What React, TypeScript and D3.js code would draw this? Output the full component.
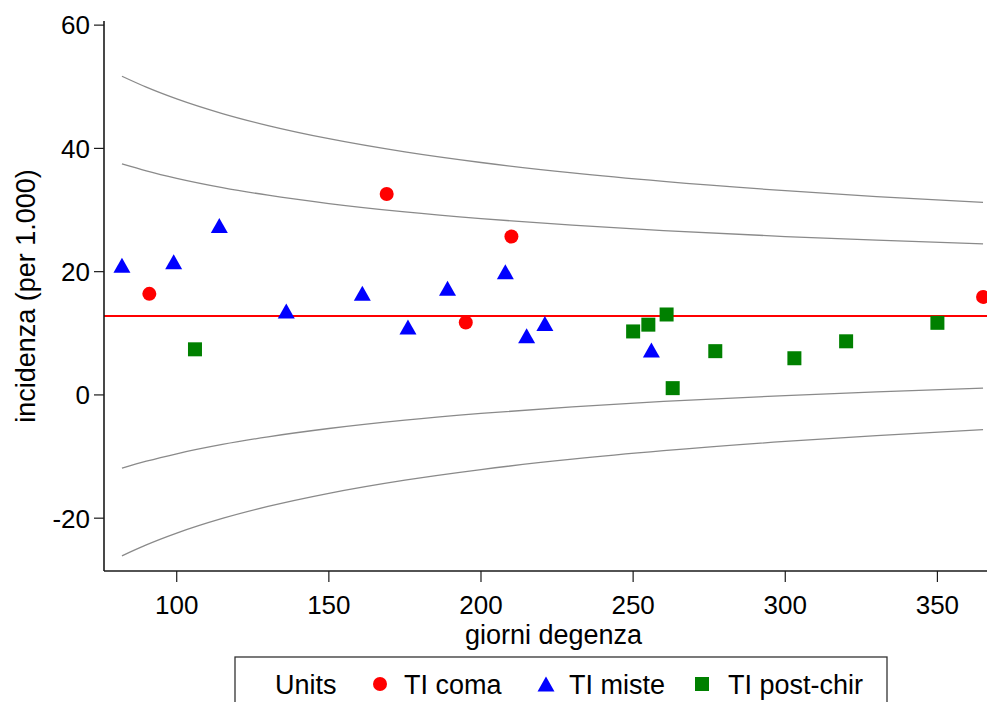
import React from "react";
import * as d3 from "d3";

// Units: days of stay (giorni degenza) and incidence per 1,000 days
const comaDays = [91, 169, 210, 195, 365];
const comaRate = [16.4, 32.6, 25.7, 11.75, 15.9];

const misteDays = [82, 99, 114, 136, 161, 176, 189, 208, 215, 221, 256];
const misteRate = [21.05, 21.6, 27.5, 13.6, 16.5, 11.0, 17.3, 20.0, 9.6, 11.6, 7.3];

const postDays = [106, 250, 255, 261, 263, 277, 303, 320, 350];
const postRate = [7.4, 10.3, 11.4, 13.05, 1.1, 7.1, 5.95, 8.7, 11.7];

// Overall incidence (target line)
const meanRate = 12.8;

// Funnel control limits sampled along the days axis
const limitDays = [82, 90, 100, 115, 130, 150, 175, 200, 230, 260, 300, 330, 365];
const upper99 = [51.71, 49.94, 48.03, 45.65, 43.7, 41.57, 39.43, 37.71, 36.03, 34.65, 33.14, 32.19, 31.24];
const upper95 = [37.48, 36.36, 35.15, 33.64, 32.4, 31.05, 29.69, 28.6, 27.54, 26.66, 25.7, 25.1, 24.5];
const lower95 = [-11.88, -10.76, -9.55, -8.04, -6.8, -5.45, -4.09, -3.0, -1.94, -1.06, -0.1, 0.5, 1.1];
const lower99 = [-26.11, -24.34, -22.43, -20.05, -18.1, -15.97, -13.83, -12.11, -10.43, -9.05, -7.54, -6.59, -5.64];

const xTicks = [100, 150, 200, 250, 300, 350];
const yTicks = [-20, 0, 20, 40, 60];

const legendTitle = "Units";
const seriesNames = ["TI coma", "TI miste", "TI post-chir"];

const W = 987;
const H = 702;
const plot = { left: 104, top: 21, right: 987, bottom: 571 };
const FONT = "'Liberation Sans', Arial, Helvetica, sans-serif";

const x = d3.scaleLinear().domain([76.1, 366.3]).range([plot.left, plot.right]);
const y = d3.scaleLinear().domain([-28.57, 60.67]).range([plot.bottom, plot.top]);

const limitLine = d3
  .line<number>()
  .x((_, i) => x(limitDays[i]))
  .curve(d3.curveMonotoneX);

function trianglePath(cx: number, cy: number, w: number, h: number) {
  return `M${cx},${cy - h / 2}L${cx + w / 2},${cy + h / 2}L${cx - w / 2},${cy + h / 2}Z`;
}

const RED = "#ff0000";
const BLUE = "#0000ff";
const GREEN = "#008000";

export default function App() {
  const limits = [upper99, upper95, lower95, lower99];
  return (
    <svg
      width={W}
      height={H}
      style={{ position: "absolute", left: 0, top: 0, background: "#fff" }}
      fontFamily={FONT}
    >
      <rect x={0} y={0} width={W} height={H} fill="#fff" />
      {/* funnel limits */}
      {limits.map((vals, k) => (
        <path
          key={k}
          d={limitLine.y((_, i) => y(vals[i]))(vals) || ""}
          fill="none"
          stroke="#8a8a8a"
          strokeWidth={1.3}
        />
      ))}
      {/* overall rate */}
      <line
        x1={plot.left}
        x2={plot.right}
        y1={y(meanRate)}
        y2={y(meanRate)}
        stroke={RED}
        strokeWidth={2}
      />
      {/* units */}
      {comaDays.map((d, i) => (
        <circle key={"c" + i} cx={x(d)} cy={y(comaRate[i])} r={7} fill={RED} />
      ))}
      {misteDays.map((d, i) => (
        <path key={"t" + i} d={trianglePath(x(d), y(misteRate[i]), 17, 15)} fill={BLUE} />
      ))}
      {postDays.map((d, i) => (
        <rect key={"s" + i} x={x(d) - 7} y={y(postRate[i]) - 7} width={14} height={14} fill={GREEN} />
      ))}

      {/* axes */}
      <line x1={plot.left} x2={plot.left} y1={plot.top} y2={plot.bottom} stroke="#1a1a1a" strokeWidth={1.6} />
      <line x1={plot.left} x2={plot.right} y1={plot.bottom} y2={plot.bottom} stroke="#1a1a1a" strokeWidth={1.6} />
      {yTicks.map((t) => (
        <g key={"yt" + t}>
          <line x1={plot.left - 10} x2={plot.left} y1={y(t)} y2={y(t)} stroke="#1a1a1a" strokeWidth={1.2} />
          <text x={plot.left - 14} y={y(t)} dy="0.36em" textAnchor="end" fontSize={26} fill="#000">
            {t}
          </text>
        </g>
      ))}
      {xTicks.map((t) => (
        <g key={"xt" + t}>
          <line x1={x(t)} x2={x(t)} y1={plot.bottom} y2={plot.bottom + 11} stroke="#1a1a1a" strokeWidth={1.2} />
          <text x={x(t)} y={614} textAnchor="middle" fontSize={26} fill="#000">
            {t}
          </text>
        </g>
      ))}
      <text x={(plot.left + plot.right) / 2 + 8} y={644} textAnchor="middle" fontSize={27} fill="#000">
        giorni degenza
      </text>
      <text
        transform={`translate(25,${(plot.top + plot.bottom) / 2}) rotate(-90)`}
        dy="0.36em"
        textAnchor="middle"
        fontSize={27}
        fill="#000"
      >
        incidenza (per 1.000)
      </text>

      {/* legend */}
      <rect x={235} y={657} width={652} height={70} fill="#fff" stroke="#333" strokeWidth={1.3} />
      <text x={275} y={694} fontSize={27} fill="#000">
        {legendTitle}
      </text>
      <circle cx={380} cy={684} r={7} fill={RED} />
      <text x={404} y={694} fontSize={27} fill="#000">
        {seriesNames[0]}
      </text>
      <path d={trianglePath(546, 684, 17, 15)} fill={BLUE} />
      <text x={569} y={694} fontSize={27} fill="#000">
        {seriesNames[1]}
      </text>
      <rect x={695} y={677} width={14} height={14} fill={GREEN} />
      <text x={728} y={694} fontSize={27} fill="#000">
        {seriesNames[2]}
      </text>
    </svg>
  );
}
